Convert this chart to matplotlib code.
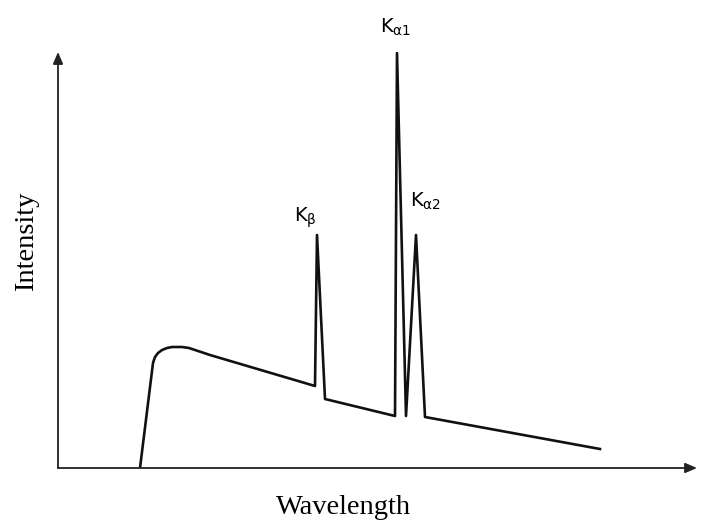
import matplotlib.pyplot as plt

# X-ray spectrum sketch: continuous background plus characteristic lines
wavelength = [82, 95, 97, 100, 104, 109, 114, 124, 131, 137, 152, 257, 259, 267, 337, 339, 348, 358, 367, 542]
intensity = [0, 105, 111, 115, 118, 120, 121, 121, 120, 118, 113, 82, 233, 69, 52, 415, 52, 233, 51, 19]

line_names = [r'K$_{\mathregular{β}}$', r'K$_{\mathregular{α1}}$', r'K$_{\mathregular{α2}}$']
line_pos = [(247, 250), (338, 441), (368, 267)]

fig = plt.figure(figsize=(7.1, 5.23), dpi=100)
ax = fig.add_axes([58 / 710, 55 / 523, 639 / 710, 416 / 523])

ax.plot(wavelength, intensity, color='#111111', lw=1.9, solid_joinstyle='round')

ax.set_xlim(0, 639)
ax.set_ylim(0, 416)
for s in ax.spines.values():
    s.set_visible(False)
ax.set_xticks([])
ax.set_yticks([])

# axes drawn as arrows
arrow = dict(arrowstyle='-|>,head_length=0.7,head_width=0.3', color='#222222', lw=1.3,
             shrinkA=0, shrinkB=0)
ax.annotate('', xy=(0, 1), xytext=(0, 0), xycoords='axes fraction', arrowprops=arrow)
ax.annotate('', xy=(1, 0), xytext=(0, 0), xycoords='axes fraction', arrowprops=arrow)

for name, (x, y) in zip(line_names, line_pos):
    ax.text(x, y, name, ha='center', va='center', fontsize=14, clip_on=False)

fig.text(344 / 710, 1 - 507 / 523, 'Wavelength', ha='center', va='center',
         fontsize=20.5, family='Liberation Serif')
fig.text(27 / 710, 1 - 241 / 523, 'Intensity', ha='center', va='center',
         fontsize=20.5, family='Liberation Serif', rotation=90)

fig.savefig('out.png', dpi=100)
